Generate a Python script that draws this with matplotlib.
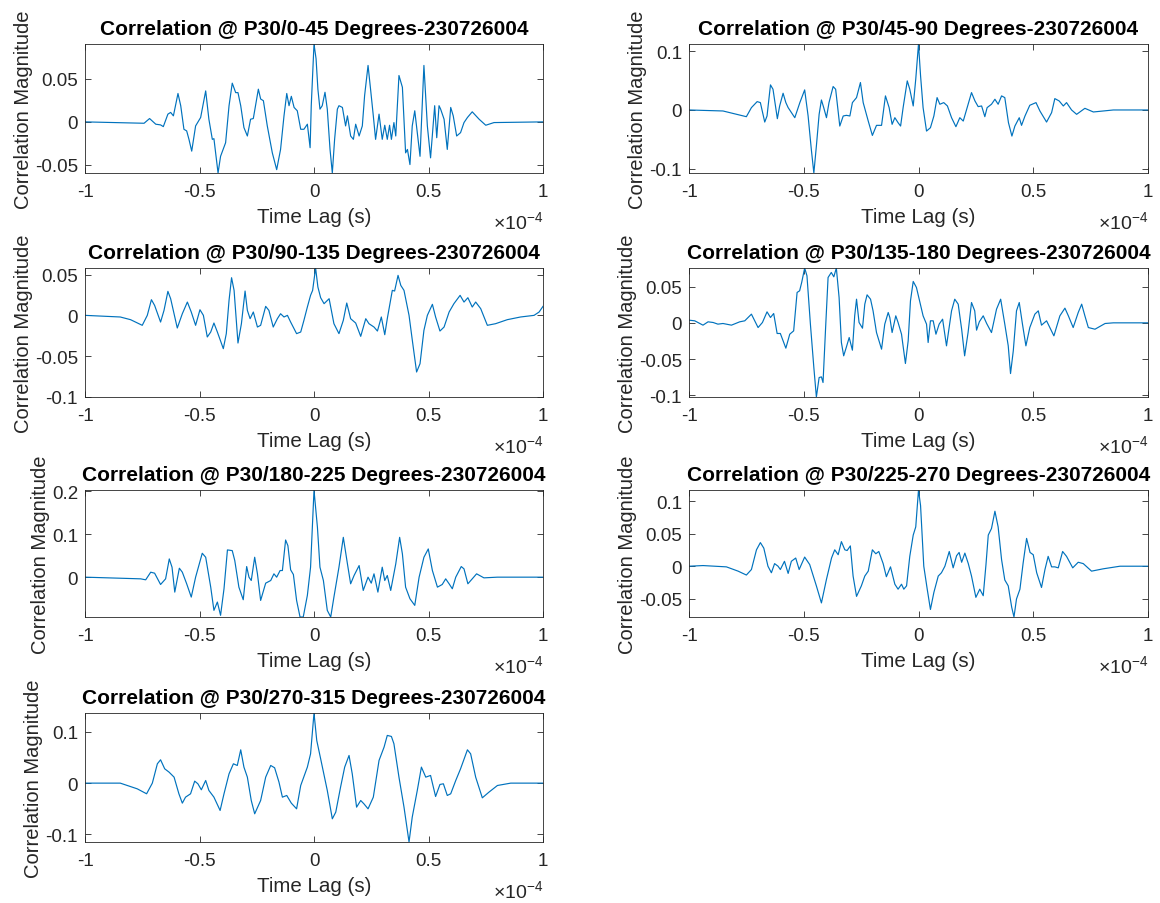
import matplotlib
matplotlib.use("Agg")
import matplotlib.pyplot as plt
from matplotlib.ticker import FuncFormatter, FixedLocator
import numpy as np

plt.rcParams['font.family'] = ['Liberation Sans', 'DejaVu Sans']
plt.rcParams['axes.unicode_minus'] = False
plt.rcParams['mathtext.fontset'] = 'custom'
plt.rcParams['mathtext.rm'] = 'Liberation Sans'
plt.rcParams['mathtext.it'] = 'Liberation Sans:italic'

LAG_UNIT = 1e-4  # lags below are given in units of 1e-4 s

titles = [
    "Correlation @ P30/0-45 Degrees-230726004",
    "Correlation @ P30/45-90 Degrees-230726004",
    "Correlation @ P30/90-135 Degrees-230726004",
    "Correlation @ P30/135-180 Degrees-230726004",
    "Correlation @ P30/180-225 Degrees-230726004",
    "Correlation @ P30/225-270 Degrees-230726004",
    "Correlation @ P30/270-315 Degrees-230726004",
]

# ---- Panel 1: 0-45 ----
lag_p1 = [-1.0, -0.742, -0.718, -0.691, -0.670, -0.658, -0.638, -0.626, -0.614, -0.594, -0.582, -0.568,
          -0.556, -0.546, -0.534, -0.517, -0.495, -0.473, -0.459, -0.444, -0.437, -0.419, -0.408, -0.386,
          -0.371, -0.357, -0.342, -0.332, -0.320, -0.306, -0.291, -0.277, -0.265, -0.243, -0.233, -0.221,
          -0.204, -0.182, -0.163, -0.146, -0.131, -0.119, -0.109, -0.099, -0.087, -0.073, -0.058, -0.044,
          -0.029, -0.017, -0.012, 0.0, 0.009, 0.017, 0.026, 0.036, 0.048, 0.058, 0.070, 0.080, 0.090,
          0.102, 0.109, 0.124, 0.138, 0.146, 0.160, 0.172, 0.182, 0.197, 0.211, 0.221, 0.236, 0.247,
          0.259, 0.269, 0.284, 0.298, 0.309, 0.320, 0.330, 0.338, 0.349, 0.357, 0.371, 0.386, 0.400,
          0.408, 0.419, 0.429, 0.440, 0.451, 0.463, 0.480, 0.495, 0.509, 0.527, 0.536, 0.546, 0.553,
          0.568, 0.582, 0.597, 0.608, 0.623, 0.640, 0.655, 0.670, 0.691, 0.721, 0.750, 0.786, 1.0]
corr_p1 = [0.0, -0.0016, 0.0039, -0.0027, -0.0035, -0.0055, 0.009, 0.011, 0.007, 0.033, 0.0188, -0.0086,
           -0.0105, -0.0203, -0.034, -0.0047, 0.0051, 0.036, 0.0031, -0.0203, -0.0195, -0.0594, -0.040, -0.0242,
           0.0188, 0.045, 0.034, 0.034, 0.0188, -0.0066, -0.0164, 0.0031, 0.0039, 0.038, 0.0266, 0.0246,
           -0.0047, -0.036, -0.0555, -0.032, 0.007, 0.033, 0.0188, 0.0297, 0.0168, 0.0129, -0.0086, -0.0086,
           -0.0027, -0.030, 0.0188, 0.0905, 0.0734, 0.038, 0.0148, 0.0188, 0.0344, 0.0148, -0.032, -0.0594, -0.0203,
           0.0148, 0.0188, 0.0168, -0.0047, 0.007, -0.0164, -0.0203, -0.0027, -0.0164, -0.0047, 0.0305, 0.0656, 0.038,
           0.007, -0.0203, 0.009, -0.0203, -0.0039, -0.0203, -0.0039, -0.0203, -0.0008, -0.0164, 0.0539, 0.0402, -0.036,
           -0.032, -0.0496, -0.0047, 0.0129, -0.0125, -0.040, 0.0656, -0.0047, -0.0418, 0.0188, -0.0184, 0.0188, 0.0148,
           0.0031, -0.032, 0.0168, 0.007, -0.0164, -0.0125, -0.0008, 0.0051, 0.0117, 0.0031, -0.0039, -0.0008, 0.0]

# ---- Panel 2: 45-90 ----
lag_p2 = [-1.0, -0.852, -0.750, -0.728, -0.703, -0.689, -0.670, -0.660, -0.645, -0.634, -0.615, -0.605,
          -0.590, -0.578, -0.568, -0.539, -0.517, -0.496, -0.481, -0.467, -0.456, -0.445, -0.433, -0.423,
          -0.413, -0.401, -0.390, -0.372, -0.361, -0.343, -0.328, -0.314, -0.299, -0.288, -0.270, -0.253,
          -0.241, -0.219, -0.201, -0.183, -0.161, -0.144, -0.128, -0.115, -0.103, -0.089, -0.078, -0.067,
          -0.049, -0.038, -0.023, -0.012, 0.0, 0.009, 0.020, 0.035, 0.052, 0.067, 0.081, 0.093, 0.110,
          0.126, 0.144, 0.163, 0.180, 0.195, 0.212, 0.231, 0.246, 0.260, 0.275, 0.289, 0.299, 0.318,
          0.333, 0.347, 0.362, 0.376, 0.392, 0.407, 0.420, 0.439, 0.449, 0.464, 0.485, 0.512, 0.529,
          0.558, 0.580, 0.594, 0.613, 0.631, 0.645, 0.667, 0.689, 0.725, 0.762, 0.849, 1.0]
corr_p2 = [0.0, -0.0017, -0.0114, 0.004, 0.0142, 0.0125, -0.0205, -0.0102, 0.0426, 0.0352, -0.0148, 0.0068,
           0.0284, 0.0125, 0.004, -0.0131, 0.0125, 0.0341, -0.0102, -0.067, -0.107, -0.0614, -0.0074, 0.017,
           0.004, -0.0131, 0.0125, 0.0398, 0.0352, -0.0273, -0.0102, -0.0091, -0.0102, 0.0125, 0.021, 0.0466,
           0.0125, -0.0188, -0.0432, -0.0261, -0.0261, 0.0239, 0.004, -0.0244, -0.0131, -0.0216, -0.0273, 0.004,
           0.0494, 0.0352, 0.0068, 0.0523, 0.112, 0.058, 0.004, -0.0358, -0.0301, -0.0102, 0.021, 0.0097, 0.0125,
           0.0068, -0.0131, -0.0284, -0.0131, -0.0188, 0.004, 0.0295, 0.0153, 0.0057, 0.0068, -0.0114, 0.004, 0.0097,
           0.0182, 0.0097, 0.0239, 0.021, -0.0216, -0.0443, -0.0273, -0.0131, -0.0261, -0.0102, 0.008, 0.0125, -0.0017,
           -0.0205, -0.0045, 0.0193, 0.0153, 0.0068, 0.0125, 0.0, -0.0074, 0.0028, -0.0034, 0.0, 0.0]

# ---- Panel 3: 90-135 ----
lag_p3 = [-1.0, -0.846, -0.801, -0.750, -0.728, -0.710, -0.696, -0.670, -0.655, -0.638, -0.626, -0.597,
          -0.575, -0.553, -0.536, -0.517, -0.498, -0.483, -0.466, -0.451, -0.437, -0.422, -0.396, -0.383,
          -0.371, -0.360, -0.349, -0.332, -0.317, -0.301, -0.291, -0.279, -0.265, -0.247, -0.233, -0.211,
          -0.197, -0.178, -0.160, -0.146, -0.131, -0.116, -0.102, -0.076, -0.058, -0.044, -0.029, -0.015,
          -0.006, 0.007, 0.017, 0.029, 0.044, 0.066, 0.087, 0.109, 0.128, 0.143, 0.160, 0.182, 0.204,
          0.226, 0.240, 0.262, 0.277, 0.294, 0.309, 0.320, 0.342, 0.352, 0.367, 0.379, 0.393, 0.415,
          0.429, 0.448, 0.463, 0.480, 0.495, 0.517, 0.531, 0.550, 0.568, 0.590, 0.611, 0.638, 0.655,
          0.672, 0.691, 0.706, 0.728, 0.757, 0.793, 0.844, 0.902, 0.961, 0.983, 1.0]
corr_p3 = [0.0, -0.002, -0.0053, -0.0122, 0.0, 0.0192, 0.0122, -0.0082, 0.0061, 0.0294, 0.0204, -0.0155,
           0.002, 0.0163, 0.0041, -0.0122, 0.0069, 0.0, -0.0265, -0.0204, -0.0094, -0.0204, -0.0408, -0.0224,
           0.0184, 0.0461, 0.0306, -0.0339, -0.0102, 0.0298, 0.0061, -0.0041, 0.0041, -0.0143, -0.0122, 0.011,
           0.0061, -0.0143, -0.0041, 0.002, -0.002, 0.0, -0.0082, -0.0224, -0.0204, -0.0061, 0.0102, 0.0245,
           0.0306, 0.058, 0.0347, 0.0216, 0.0143, 0.0204, -0.0102, -0.0224, -0.0061, 0.0151, -0.0041, -0.0094, -0.0257,
           -0.0041, -0.0102, -0.0143, -0.0192, -0.002, -0.0237, -0.0041, 0.0306, 0.0298, 0.049, 0.0367, 0.0306, 0.0,
           -0.0298, -0.0694, -0.0592, -0.0184, 0.0, 0.0135, -0.002, -0.0192, -0.0143, 0.0041, 0.0143, 0.0245, 0.0163,
           0.0216, 0.0102, 0.0163, 0.0082, -0.0122, -0.0102, -0.0053, -0.002, 0.0, 0.0041, 0.011]

# ---- Panel 4: 135-180 ----
lag_p4 = [-1.0, -0.975, -0.939, -0.917, -0.895, -0.874, -0.852, -0.815, -0.779, -0.757, -0.728, -0.699,
          -0.680, -0.660, -0.645, -0.631, -0.616, -0.602, -0.578, -0.561, -0.544, -0.529, -0.518, -0.509,
          -0.496, -0.486, -0.471, -0.456, -0.445, -0.433, -0.423, -0.416, -0.404, -0.394, -0.380, -0.369,
          -0.358, -0.346, -0.336, -0.326, -0.314, -0.302, -0.288, -0.278, -0.270, -0.259, -0.244, -0.234,
          -0.224, -0.209, -0.198, -0.183, -0.161, -0.147, -0.132, -0.125, -0.115, -0.099, -0.089, -0.074,
          -0.057, -0.045, -0.035, -0.023, -0.009, 0.003, 0.020, 0.035, 0.042, 0.052, 0.064, 0.076, 0.090,
          0.105, 0.122, 0.144, 0.158, 0.173, 0.188, 0.201, 0.216, 0.231, 0.245, 0.253, 0.265, 0.282,
          0.297, 0.318, 0.340, 0.358, 0.376, 0.391, 0.401, 0.413, 0.427, 0.439, 0.453, 0.468, 0.485,
          0.507, 0.522, 0.536, 0.558, 0.590, 0.616, 0.638, 0.653, 0.674, 0.696, 0.711, 0.725, 0.740,
          0.769, 0.813, 0.849, 1.0]
corr_p4 = [0.0037, 0.0028, -0.0032, 0.0014, 0.0005, -0.0018, -0.0009, -0.0032, 0.0014, 0.0028, 0.012, -0.0065,
           0.0005, 0.0152, 0.0074, 0.0129, -0.0147, -0.0147, -0.035, -0.0157, -0.0111, 0.042, 0.0443, 0.0558,
           0.0758, 0.065, -0.0018, -0.0618, -0.1025, -0.0756, -0.0747, -0.0825, -0.0018, 0.0627, 0.0696, 0.0636,
           0.0758, 0.035, -0.0272, -0.0456, -0.0332, -0.0203, -0.0378, 0.0097, 0.0327, 0.0005, -0.0074, 0.0258,
           0.0387, 0.0327, 0.0166, -0.0134, -0.0364, -0.0018, 0.0143, 0.0074, -0.0134, 0.0097, 0.0005, -0.0157,
           -0.0562, -0.0249, 0.0304, 0.0572, 0.0489, 0.0327, 0.0097, -0.0018, -0.0272, 0.0028, 0.0028, -0.0157, -0.0018,
           0.0051, -0.0318, 0.0166, 0.0327, 0.0258, -0.0088, -0.0456, -0.0134, 0.0281, 0.0166, -0.0101, 0.0014, 0.0097,
           -0.0009, -0.0134, 0.0189, 0.0327, -0.0018, -0.0318, -0.0701, -0.0387, 0.0166, 0.0281, -0.0018, -0.0318, -0.0065,
           0.012, 0.0166, -0.0032, 0.0028, -0.018, 0.0097, 0.0203, 0.0097, -0.0065, 0.0143, 0.0258, 0.0097, -0.0065,
           -0.0088, -0.0009, 0.0, 0.0]

# ---- Panel 5: 180-225 ----
lag_p5 = [-1.0, -0.757, -0.735, -0.713, -0.696, -0.670, -0.648, -0.632, -0.620, -0.608, -0.588, -0.575,
          -0.556, -0.536, -0.517, -0.488, -0.473, -0.451, -0.437, -0.422, -0.408, -0.393, -0.378, -0.357,
          -0.346, -0.328, -0.309, -0.294, -0.284, -0.274, -0.259, -0.247, -0.233, -0.211, -0.189, -0.175,
          -0.163, -0.148, -0.138, -0.124, -0.114, -0.102, -0.090, -0.076, -0.061, -0.047, -0.029, -0.015,
          0.0, 0.015, 0.026, 0.041, 0.058, 0.073, 0.087, 0.109, 0.128, 0.146, 0.160, 0.175, 0.197,
          0.215, 0.236, 0.250, 0.262, 0.279, 0.298, 0.309, 0.320, 0.335, 0.357, 0.374, 0.386, 0.400,
          0.419, 0.440, 0.459, 0.480, 0.499, 0.517, 0.539, 0.560, 0.575, 0.590, 0.604, 0.619, 0.643,
          0.655, 0.672, 0.691, 0.710, 0.742, 0.801, 1.0]
corr_p5 = [0.0, -0.0039, -0.0062, 0.0116, 0.0093, -0.0171, -0.0039, 0.0426, 0.0233, -0.0349, 0.0209, 0.0116,
           -0.0155, -0.0465, 0.0, 0.0558, 0.0465, -0.0233, -0.0775, -0.0581, -0.0891, -0.0271, 0.0636, 0.062,
           0.0388, -0.0233, -0.0527, 0.0248, 0.0, -0.0078, 0.0465, 0.0078, -0.0543, -0.014, -0.0078, 0.0078,
           0.0, 0.0155, 0.0155, 0.0868, 0.0736, 0.0171, 0.0062, -0.0543, -0.093, -0.093, -0.0426, 0.0233,
           0.203, 0.1163, 0.0233, -0.0078, -0.0775, -0.093, -0.0465, 0.0233, 0.093, 0.031, -0.0155, 0.0039, 0.0271,
           -0.031, 0.0, -0.014, 0.0078, -0.0349, 0.0233, -0.0078, 0.0039, -0.031, 0.031, 0.093, 0.0543, -0.0233,
           -0.0504, -0.0659, 0.0, 0.0465, 0.0659, 0.0155, -0.0233, -0.0171, -0.0039, -0.0155, -0.0271, 0.0, 0.0248,
           0.0194, -0.0155, -0.0039, 0.0078, -0.0016, 0.0, 0.0]

# ---- Panel 6: 225-270 ----
lag_p6 = [-1.0, -0.939, -0.837, -0.786, -0.750, -0.728, -0.706, -0.689, -0.674, -0.656, -0.641, -0.627,
          -0.612, -0.602, -0.584, -0.568, -0.554, -0.535, -0.520, -0.496, -0.474, -0.445, -0.423, -0.401,
          -0.379, -0.365, -0.350, -0.336, -0.321, -0.311, -0.297, -0.285, -0.270, -0.249, -0.234, -0.219,
          -0.201, -0.186, -0.173, -0.154, -0.140, -0.122, -0.103, -0.089, -0.074, -0.064, -0.052, -0.038,
          -0.023, -0.012, 0.0, 0.009, 0.023, 0.038, 0.052, 0.067, 0.086, 0.100, 0.115, 0.134, 0.151,
          0.166, 0.177, 0.188, 0.202, 0.217, 0.231, 0.250, 0.267, 0.282, 0.294, 0.304, 0.318, 0.333,
          0.347, 0.362, 0.376, 0.391, 0.406, 0.416, 0.427, 0.442, 0.456, 0.471, 0.486, 0.500, 0.515,
          0.536, 0.551, 0.565, 0.580, 0.594, 0.609, 0.628, 0.645, 0.672, 0.696, 0.718, 0.754, 0.805,
          0.878, 1.0]
corr_p6 = [0.0, 0.001, -0.001, -0.0076, -0.0136, -0.0051, 0.0253, 0.0364, 0.0278, 0.0, -0.0101, 0.004,
           0.0, -0.0051, 0.0076, -0.0111, 0.0076, 0.0126, -0.0051, 0.0141, 0.0025, -0.0303, -0.0566, -0.0202,
           0.0126, 0.0253, 0.0177, 0.0379, 0.0253, 0.0242, 0.0313, -0.0152, -0.0465, -0.0303, -0.0152, -0.0076,
           0.0253, 0.0192, 0.0227, 0.004, -0.0162, -0.001, -0.0278, -0.0354, -0.0278, -0.0354, -0.0303, 0.0152,
           0.048, 0.0606, 0.1175, 0.0934, 0.0, -0.0354, -0.0667, -0.0404, -0.0152, -0.0101, 0.0, 0.0227, -0.0025,
           0.0162, 0.0212, 0.0061, 0.0202, 0.004, -0.0152, -0.048, -0.0354, -0.0455, 0.0025, 0.048, 0.0581, 0.0848,
           0.0606, 0.0101, -0.0212, -0.0303, -0.0631, -0.0783, -0.0505, -0.0354, 0.0051, 0.0429, 0.0212, 0.0177, -0.0101,
           -0.0328, -0.0051, 0.0152, -0.001, -0.001, -0.0025, 0.0227, 0.0152, -0.0025, 0.0061, 0.004, -0.0076, -0.004,
           0.0, 0.0]

# ---- Panel 7: 270-315 ----
lag_p7 = [-1.0, -0.846, -0.772, -0.731, -0.706, -0.684, -0.670, -0.652, -0.633, -0.611, -0.590, -0.575,
          -0.561, -0.539, -0.521, -0.507, -0.492, -0.473, -0.459, -0.437, -0.410, -0.393, -0.371, -0.352,
          -0.335, -0.320, -0.306, -0.291, -0.274, -0.259, -0.233, -0.211, -0.189, -0.172, -0.153, -0.138,
          -0.119, -0.099, -0.076, -0.058, -0.029, -0.015, 0.0, 0.012, 0.029, 0.058, 0.080, 0.095, 0.116,
          0.134, 0.153, 0.167, 0.186, 0.204, 0.218, 0.236, 0.259, 0.284, 0.306, 0.320, 0.338, 0.349,
          0.371, 0.393, 0.415, 0.429, 0.451, 0.469, 0.488, 0.509, 0.531, 0.550, 0.565, 0.582, 0.597,
          0.619, 0.640, 0.670, 0.684, 0.706, 0.735, 0.764, 0.801, 0.859, 1.0]
corr_p7 = [0.0, 0.0, -0.0111, -0.0208, 0.0, 0.0378, 0.0456, 0.028, 0.0215, 0.0117, -0.0208, -0.0391,
           -0.0274, -0.0208, 0.0039, -0.0013, -0.013, 0.0052, -0.0143, -0.0274, -0.0534, -0.0208, 0.0182, 0.0378,
           0.0345, 0.0651, 0.0313, 0.0117, -0.0339, -0.0599, -0.0339, 0.0117, 0.0345, 0.030, 0.002, -0.0274,
           -0.0241, -0.0391, -0.0502, -0.0046, 0.0313, 0.0573, 0.137, 0.0834, 0.0476, -0.0143, -0.0697, -0.0567, -0.0078,
           0.0313, 0.0541, 0.0182, -0.0469, -0.0339, -0.0404, -0.0502, -0.0274, 0.0443, 0.0704, 0.0932, 0.0912, 0.0769,
           0.0117, -0.0469, -0.115, -0.0664, -0.0143, 0.0313, 0.0117, 0.015, -0.0261, -0.0026, -0.0013, -0.0241, -0.0208,
           0.0052, 0.028, 0.0651, 0.0573, 0.0117, -0.0287, -0.0176, -0.0046, 0.0, 0.0]

lags = [lag_p1, lag_p2, lag_p3, lag_p4, lag_p5, lag_p6, lag_p7]
corrs = [corr_p1, corr_p2, corr_p3, corr_p4, corr_p5, corr_p6, corr_p7]

ylims = [(-0.0594, 0.0905), (-0.107, 0.112), (-0.1, 0.058), (-0.1025, 0.0758),
         (-0.093, 0.2035), (-0.0783, 0.1175), (-0.115, 0.137)]
yticks = [[-0.05, 0, 0.05], [-0.1, 0, 0.1], [-0.1, -0.05, 0, 0.05], [-0.1, -0.05, 0, 0.05],
          [0, 0.1, 0.2], [-0.05, 0, 0.05, 0.1], [-0.1, 0, 0.1]]
xticks = [-1, -0.5, 0, 0.5, 1]

W, H = 1160, 904
fig = plt.figure(figsize=(W / 100, H / 100), dpi=100)

col_left = [85, 689]
col_width = [458, 459]
row_top = [45, 269, 491, 714]
row_height = [129, 129, 127, 129]

AX_COLOR = '#262626'
LINE_COLOR = '#0072BD'

for i in range(7):
    r, c = divmod(i, 2)
    x0 = col_left[c]
    y0 = row_top[r]
    ax = fig.add_axes([x0 / W, 1 - (y0 + row_height[r]) / H, col_width[c] / W, row_height[r] / H])
    t = np.array(lags[i]) * LAG_UNIT
    ax.plot(t, corrs[i], color=LINE_COLOR, lw=0.85)
    ax.set_xlim(-1e-4, 1e-4)
    ax.set_ylim(*ylims[i])
    ax.xaxis.set_major_locator(FixedLocator([v * LAG_UNIT for v in xticks]))
    ax.xaxis.set_major_formatter(FuncFormatter(lambda v, p: '{:g}'.format(round(v / LAG_UNIT, 6))))
    ax.yaxis.set_major_locator(FixedLocator(yticks[i]))
    ax.yaxis.set_major_formatter(FuncFormatter(lambda v, p: '{:g}'.format(round(v, 6))))
    ax.tick_params(direction='in', length=4, width=0.6, colors=AX_COLOR, labelsize=13.5,
                   top=True, right=True)
    ax.tick_params(axis='x', pad=7)
    ax.tick_params(axis='y', pad=5)
    for s in ax.spines.values():
        s.set_color(AX_COLOR)
        s.set_linewidth(0.6)
    ax.set_title(titles[i], fontsize=15.0, fontweight='bold', color='black', pad=7)
    ax.set_xlabel('Time Lag (s)', fontsize=14.8, color=AX_COLOR, labelpad=5)
    ax.set_ylabel('Correlation Magnitude', fontsize=14.5, color=AX_COLOR, labelpad=1.5)
    ax.text(1.0, -0.43, r'$\times\mathregular{10^{-4}}$', transform=ax.transAxes,
            ha='right', va='baseline', fontsize=14, color=AX_COLOR)

fig.savefig('out.png', dpi=100, facecolor='white')
